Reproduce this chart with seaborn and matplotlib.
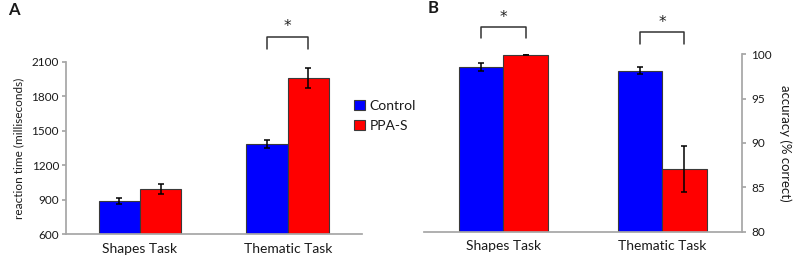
#!/usr/bin/env python3
"""Reaction time and accuracy for Control vs PPA-S on two tasks (panels A and B)."""

import matplotlib
matplotlib.use("Agg")
import matplotlib.pyplot as plt
import numpy as np
import pandas as pd
import seaborn as sns

tasks = ["Shapes Task", "Thematic Task"]
groups = ["Control", "PPA-S"]
colors = ["#0000ff", "#ff0000"]

# reaction time (ms), per group over tasks
rt_control = [888, 1385]
rt_ppa = [991, 1959]
rt_err_control = [27, 36]
rt_err_ppa = [43, 87]

# accuracy (% correct)
acc_control = [98.6, 98.15]
acc_ppa = [99.97, 87.1]
acc_err_control = [0.47, 0.38]
acc_err_ppa = [0.03, 2.6]

# significance brackets: (task index, bracket height)
rt_sig = [(1, 2318)]
acc_sig = [(0, 103.1), (1, 102.5)]

GREY = "#a6a6a6"
WIDTH = 0.56


def long_df(ctrl, ppa, ctrl_err, ppa_err):
    rows = []
    for g, vals, errs in ((groups[0], ctrl, ctrl_err), (groups[1], ppa, ppa_err)):
        for t, v, e in zip(tasks, vals, errs):
            rows.append({"task": t, "group": g, "value": v, "err": e})
    return pd.DataFrame(rows)


def draw_bars(ax, df):
    sns.barplot(data=df, x="task", y="value", hue="group", order=tasks,
                hue_order=groups, palette=colors, saturation=1, width=WIDTH,
                gap=0, errorbar=None, edgecolor="#3a3a3a", linewidth=0.8,
                legend=False, ax=ax)
    for cont, g in zip(ax.containers, groups):
        sub = df[df["group"] == g].set_index("task").loc[tasks]
        xs = [b.get_x() + b.get_width() / 2 for b in cont]
        ax.errorbar(xs, sub["value"], yerr=sub["err"], fmt="none",
                    ecolor="black", elinewidth=1.1, capsize=2.5,
                    capthick=1.1, zorder=5)


def draw_sig(ax, sig, leg, star_off):
    half = WIDTH / 4
    for i, h in sig:
        x0, x1 = i - half, i + half
        ax.plot([x0, x0, x1, x1], [h - leg, h, h, h - leg], color="#333333",
                lw=1.1, clip_on=False)
        ax.text(i, h + star_off, "*", ha="center", va="center",
                fontsize=11, family="DejaVu Sans", color="#222222",
                clip_on=False)


def style_x(ax):
    ax.set_xlim(-0.5, 1.5)
    ax.set_xlabel("")
    ax.set_xticks([0, 1])
    ax.set_xticklabels(tasks, fontsize=10)
    ax.set_xticks([-0.5, 0.5, 1.5], minor=True)
    ax.tick_params(axis="x", which="major", length=0, pad=6)
    ax.tick_params(axis="x", which="minor", length=3, color=GREY,
                   direction="inout")
    ax.spines["bottom"].set_color(GREY)


def main():
    sns.set_theme(style="white")
    plt.rcParams["font.family"] = ["Lato", "DejaVu Sans"]
    plt.rcParams["text.color"] = "#1a1a1a"
    plt.rcParams["xtick.labelcolor"] = "#1a1a1a"
    plt.rcParams["ytick.labelcolor"] = "#1a1a1a"
    plt.rcParams["axes.labelcolor"] = "#1a1a1a"

    fig = plt.figure(figsize=(8.0, 2.59), dpi=100)
    ax_a = fig.add_axes([0.0825, 0.0954, 0.3696, 0.6664])
    ax_b = fig.add_axes([0.53, 0.1054, 0.397, 0.685])

    # panel A: reaction time
    df_rt = long_df(rt_control, rt_ppa, rt_err_control, rt_err_ppa)
    draw_bars(ax_a, df_rt)
    ax_a.set_ylim(600, 2100)
    ax_a.set_yticks(np.arange(600, 2101, 300))
    ax_a.tick_params(axis="y", labelsize=8.5, length=3, color=GREY,
                     direction="out", left=True, pad=2)
    ax_a.set_ylabel("reaction time (milliseconds)", fontsize=8.5, labelpad=5)
    for s in ("top", "right"):
        ax_a.spines[s].set_visible(False)
    ax_a.spines["left"].set_color(GREY)
    style_x(ax_a)
    draw_sig(ax_a, rt_sig, 107, 90)

    # panel B: accuracy on a right-hand axis
    df_acc = long_df(acc_control, acc_ppa, acc_err_control, acc_err_ppa)
    draw_bars(ax_b, df_acc)
    ax_b.set_ylim(80, 100)
    ax_b.set_yticks(np.arange(80, 101, 5))
    ax_b.yaxis.tick_right()
    ax_b.yaxis.set_label_position("right")
    ax_b.tick_params(axis="y", labelsize=8.5, length=3, color=GREY,
                     direction="out", right=True, left=False, pad=4)
    ax_b.set_ylabel("accuracy (% correct)", fontsize=9.5, rotation=270,
                    labelpad=14)
    for s in ("top", "left"):
        ax_b.spines[s].set_visible(False)
    ax_b.spines["right"].set_color(GREY)
    style_x(ax_b)
    draw_sig(ax_b, acc_sig, 1.3, 1.1)

    # legend between the panels
    handles = [plt.Rectangle((0, 0), 1, 1, facecolor=c, edgecolor="#3a3a3a",
                             linewidth=0.8) for c in colors]
    fig.legend(handles, groups, loc="upper left",
               bbox_to_anchor=(0.443, 1 - 100 / 259), frameon=False,
               fontsize=10, handlelength=0.75, handleheight=0.75,
               handletextpad=0.35, labelspacing=0.55, borderpad=0,
               borderaxespad=0)

    fig.text(14 / 800, 1 - 10 / 259, "A", fontsize=12, fontweight="bold",
             ha="center", va="center")
    fig.text(433 / 800, 1 - 8 / 259, "B", fontsize=12, fontweight="bold",
             ha="center", va="center")

    fig.savefig("out.png", dpi=100)
    plt.close(fig)


if __name__ == "__main__":
    main()
